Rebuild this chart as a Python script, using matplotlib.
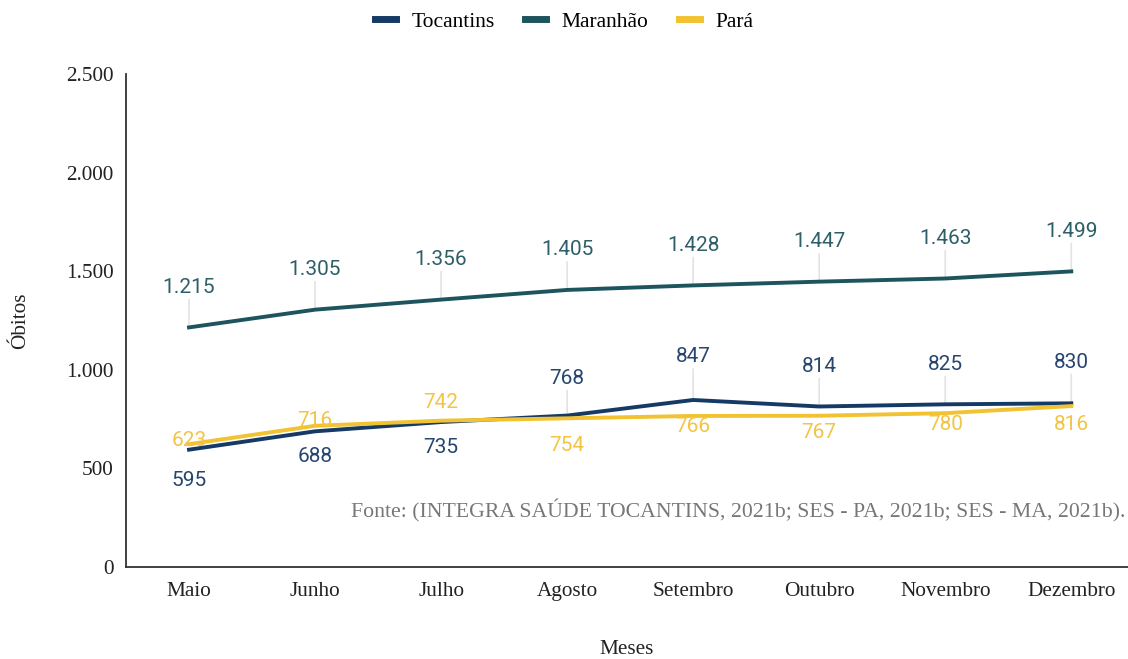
import matplotlib.pyplot as plt
from matplotlib.ticker import FuncFormatter

# Dados (óbitos por mês)
meses = ['Maio', 'Junho', 'Julho', 'Agosto', 'Setembro', 'Outubro', 'Novembro', 'Dezembro']
tocantins = [595, 688, 735, 768, 847, 814, 825, 830]
maranhao = [1215, 1305, 1356, 1405, 1428, 1447, 1463, 1499]
para = [623, 716, 742, 754, 766, 767, 780, 816]

# deslocamento vertical dos rótulos (pixels)
desl_toc = [-31, -25, -25, 37, 43, 40, 40, 41]
desl_mar = [40, 40, 40, 40, 40, 40, 40, 40]
desl_par = [4, 5, 18, -27, -11, -17, -11, -18]

cor_toc = '#163a66'
cor_mar = '#1d545e'
cor_par = '#f1c232'

serif = 'Liberation Serif'
sans = 'Roboto'

fig = plt.figure(figsize=(11.28, 6.59), dpi=100)
ax = fig.add_axes([0.1117, 0.1396, 0.8883, 0.7481])

x = list(range(len(meses)))
ax.plot(x, tocantins, color=cor_toc, lw=2.8, label='Tocantins', zorder=3)
ax.plot(x, maranhao, color=cor_mar, lw=2.8, label='Maranhão', zorder=3)
ax.plot(x, para, color=cor_par, lw=2.8, label='Pará', zorder=4)


def fmt(v):
    return f'{v:,}'.replace(',', '.')


def rotular(vals, desl, cor):
    for i, (v, d) in enumerate(zip(vals, desl)):
        ax.annotate(fmt(v), (i, v), xytext=(0, d * 0.72), textcoords='offset points',
                    ha='center', va='center', color=cor, fontsize=15,
                    family=sans, zorder=5)
        if d > 20:
            ax.annotate('', (i, v), xytext=(0, (d - 12) * 0.72), textcoords='offset points',
                        arrowprops=dict(arrowstyle='-', color='#e3e3e3', lw=1.2,
                                        shrinkA=0, shrinkB=0), zorder=1)


rotular(maranhao, desl_mar, '#2e5f69')
rotular(tocantins, desl_toc, '#27466f')
rotular(para, desl_par, '#f3c443')

ax.set_xlim(-0.5, 7.45)
ax.set_ylim(0, 2500)
ax.set_yticks([0, 500, 1000, 1500, 2000, 2500])
ax.yaxis.set_major_formatter(FuncFormatter(lambda v, p: fmt(int(v))))
ax.set_xticks(x)
ax.set_xticklabels(meses)
for lab in ax.get_xticklabels() + ax.get_yticklabels():
    lab.set_family(serif)
    lab.set_fontsize(15.3)
    lab.set_color('#222222')
ax.tick_params(length=0)
ax.tick_params(axis='x', pad=11)
ax.tick_params(axis='y', pad=9)

for s in ['top', 'right']:
    ax.spines[s].set_visible(False)
for s in ['left', 'bottom']:
    ax.spines[s].set_color('#333333')
    ax.spines[s].set_linewidth(1.3)

ax.set_ylabel('Óbitos', family=serif, fontsize=15.3, color='#222222', labelpad=26)
ax.set_xlabel('Meses', family=serif, fontsize=15.3, color='#222222', labelpad=28)

leg = fig.legend(loc='center', bbox_to_anchor=(0.5, 0.967), ncol=3, frameon=False,
                 prop={'family': serif, 'size': 15.5}, handlelength=1.0,
                 columnspacing=1.4, handletextpad=0.7)
for h in leg.get_lines():
    h.set_linewidth(5)

ax.text(0.9975, 0.114, 'Fonte: (INTEGRA SAÚDE TOCANTINS, 2021b; SES - PA, 2021b; SES - MA, 2021b).',
        transform=ax.transAxes, ha='right', va='center', family=serif, fontsize=15.7,
        color='#777777')

fig.savefig('out.png', dpi=100)
